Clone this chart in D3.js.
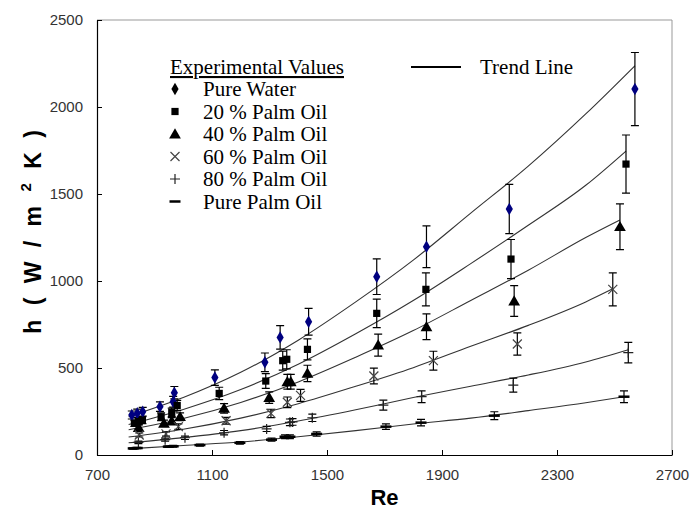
<!DOCTYPE html>
<head>
  <meta charset="utf-8">
  <style>
    body { margin: 0; background: #fff; }
    .tick text { font: 15px Arial, "Liberation Sans", sans-serif; fill: #333; }
    .legend text { font: 21px "Liberation Serif", "Times New Roman", serif; fill: #000; }
    .trend { fill: none; stroke: #333; stroke-width: 1.1; }
    .err { stroke: #000; stroke-width: 1.2; fill: none; }
  </style>
  <script src="https://d3js.org/d3.v7.min.js"></script>
</head>
<body>
  <div id="chart"></div>
  <script>
  // x axis / y axis ticks
  var xTicks = [700, 1100, 1500, 1900, 2300, 2700];
  var yTicks = [0, 500, 1000, 1500, 2000, 2500];

  var seriesNames = ["Pure Water", "20 % Palm Oil", "40 % Palm Oil", "60 % Palm Oil", "80 % Palm Oil", "Pure Palm Oil"];

  // experimental values (Re, h)
  var waterRe = [821, 840, 859, 919, 965, 969, 1110, 1284, 1337, 1436, 1673, 1846, 2134, 2571];
  var waterH  = [230, 240, 249, 278, 306, 358, 445, 533, 676, 766, 1025, 1197, 1414, 2103];
  var po20Re = [830, 845, 858, 923, 960, 979, 1125, 1287, 1346, 1360, 1432, 1673, 1844, 2140, 2540];
  var po20H  = [182, 192, 200, 220, 245, 285, 354, 425, 542, 550, 607, 814, 952, 1126, 1672];
  var po40Re = [845, 933, 960, 989, 1142, 1299, 1362, 1374, 1432, 1678, 1846, 2151, 2519];
  var po40H  = [158, 182, 195, 220, 268, 330, 421, 421, 469, 632, 737, 885, 1312];
  var po60Re = [847, 940, 983, 1149, 1305, 1362, 1408, 1663, 1870, 2162, 2494];
  var po60H  = [115, 121, 163, 197, 239, 303, 343, 454, 542, 638, 952];
  var po80Re = [844, 937, 1006, 1142, 1290, 1371, 1380, 1449, 1696, 1829, 2148, 2548];
  var po80H  = [72, 88, 99, 128, 150, 188, 190, 214, 287, 335, 402, 588];
  var palmRe = [826, 840, 948, 965, 1058, 1197, 1307, 1354, 1371, 1464, 1705, 1827, 2082, 2533];
  var palmH  = [38, 40, 48, 50, 57, 70, 88, 105, 105, 121, 163, 186, 226, 335];

  // trend lines
  var waterTrendRe = [810, 1000, 1200, 1400, 1600, 1800, 2000, 2200, 2400, 2571];
  var waterTrendH  = [220, 330, 475, 660, 880, 1120, 1390, 1660, 1960, 2237];
  var po20TrendRe = [810, 1000, 1200, 1400, 1600, 1800, 2000, 2200, 2400, 2540];
  var po20TrendH  = [175, 262, 376, 522, 697, 888, 1100, 1320, 1550, 1747];
  var po40TrendRe = [810, 1000, 1200, 1400, 1600, 1800, 2000, 2200, 2400, 2519];
  var po40TrendH  = [145, 210, 302, 420, 562, 715, 888, 1062, 1250, 1351];
  var po60TrendRe = [810, 1000, 1200, 1400, 1600, 1800, 2000, 2200, 2400, 2494];
  var po60TrendH  = [103, 148, 212, 295, 395, 502, 625, 745, 880, 955];
  var po80TrendRe = [810, 1000, 1200, 1400, 1600, 1800, 2000, 2200, 2400, 2548];
  var po80TrendH  = [70, 100, 140, 195, 260, 330, 395, 460, 535, 605];
  var palmTrendRe = [810, 1000, 1200, 1400, 1600, 1800, 2000, 2200, 2400, 2533];
  var palmTrendH  = [35, 55, 75, 105, 140, 178, 212, 255, 300, 335];

  // error bars are +/- percent of value (Excel style)
  var errPct = 10;

  var series = [
    {re: waterRe, h: waterH, tre: waterTrendRe, th: waterTrendH, sym: "diamond"},
    {re: po20Re, h: po20H, tre: po20TrendRe, th: po20TrendH, sym: "square"},
    {re: po40Re, h: po40H, tre: po40TrendRe, th: po40TrendH, sym: "triangle"},
    {re: po60Re, h: po60H, tre: po60TrendRe, th: po60TrendH, sym: "x"},
    {re: po80Re, h: po80H, tre: po80TrendRe, th: po80TrendH, sym: "plus"},
    {re: palmRe, h: palmH, tre: palmTrendRe, th: palmTrendH, sym: "dash"}
  ];

  var W = 691, H = 516;
  var margin = {top: 20, right: 19, bottom: 61, left: 97},
      width = W - margin.left - margin.right,
      height = H - margin.top - margin.bottom;

  var x = d3.scaleLinear().domain([700, 2700]).range([0, width]);
  var y = d3.scaleLinear().domain([0, 2500]).range([height, 0]);

  var svg = d3.select("#chart").append("svg")
      .attr("width", W)
      .attr("height", H)
    .append("g")
      .attr("transform", "translate(" + margin.left + "," + margin.top + ")");

  // top and right border (gray)
  svg.append("path")
    .attr("d", "M0,0H" + width + "V" + height)
    .attr("fill", "none")
    .attr("stroke", "#999")
    .attr("stroke-width", 1);

  // axes, ticks pointing inward
  var xAxis = svg.append("g")
    .attr("transform", "translate(0," + height + ")")
    .call(d3.axisBottom(x).tickValues(xTicks).tickFormat(d3.format("d"))
      .tickSizeInner(-5).tickSizeOuter(0).tickPadding(14));
  var yAxis = svg.append("g")
    .call(d3.axisLeft(y).tickValues(yTicks).tickFormat(d3.format("d"))
      .tickSizeInner(-5).tickSizeOuter(0).tickPadding(14));
  [xAxis, yAxis].forEach(function(g) {
    g.select(".domain").attr("stroke", "#000").attr("stroke-width", 1.2);
    g.selectAll(".tick line").attr("stroke", "#000");
  });

  // axis titles
  svg.append("text")
    .attr("x", width / 2)
    .attr("y", height + 50)
    .attr("text-anchor", "middle")
    .style("font", "bold 22px Arial, 'Liberation Sans', sans-serif")
    .text("Re");

  var yl = svg.append("text")
    .attr("transform", "translate(-56," + 212 + ") rotate(-90)")
    .attr("text-anchor", "middle")
    .style("font", "bold 23px Arial, 'Liberation Sans', sans-serif")
    .style("word-spacing", "8px");
  yl.append("tspan").text("h ( W / m ");
  yl.append("tspan").attr("dy", -10).style("font-size", "15px").text("2");
  yl.append("tspan").attr("dy", 10).text(" K )");

  // marker drawing
  function drawMarker(g, sym, fill) {
    if (sym === "diamond") {
      g.append("path").attr("d", d3.symbol().type(d3.symbolDiamond).size(45)).attr("fill", fill);
    } else if (sym === "square") {
      g.append("path").attr("d", d3.symbol().type(d3.symbolSquare).size(52)).attr("fill", "#000");
    } else if (sym === "triangle") {
      g.append("path").attr("d", d3.symbol().type(d3.symbolTriangle).size(60))
        .attr("transform", "translate(0,1)").attr("fill", "#000");
    } else if (sym === "x") {
      g.append("path").attr("d", "M-4.5,-4.5L4.5,4.5M-4.5,4.5L4.5,-4.5").attr("stroke", "#444").attr("stroke-width", 1.2);
    } else if (sym === "plus") {
      g.append("path").attr("d", "M-5,0H5M0,-5V5").attr("stroke", "#222").attr("stroke-width", 1.2);
    } else if (sym === "dash") {
      g.append("path").attr("d", "M-5.5,0H5.5").attr("stroke", "#000").attr("stroke-width", 2.5);
    }
  }

  var line = d3.line().curve(d3.curveMonotoneX)
    .x(function(d) { return x(d[0]); })
    .y(function(d) { return y(d[1]); });

  // trend lines
  series.forEach(function(s) {
    svg.append("path")
      .attr("class", "trend")
      .attr("d", line(d3.zip(s.tre, s.th)));
  });

  // error bars
  series.forEach(function(s) {
    var g = svg.append("g").attr("class", "err");
    d3.zip(s.re, s.h).forEach(function(p) {
      var e = p[1] * errPct / 100;
      var cx = x(p[0]), y0 = y(p[1] - e), y1 = y(p[1] + e);
      g.append("path").attr("d",
        "M" + cx + "," + y0 + "V" + y1 +
        "M" + (cx - 4) + "," + y0 + "H" + (cx + 4) +
        "M" + (cx - 4) + "," + y1 + "H" + (cx + 4));
    });
  });

  // markers
  series.forEach(function(s) {
    d3.zip(s.re, s.h).forEach(function(p) {
      var g = svg.append("g").attr("transform", "translate(" + x(p[0]) + "," + y(p[1]) + ")");
      drawMarker(g, s.sym, "#000080");
    });
  });

  // legend
  var leg = svg.append("g").attr("class", "legend");
  leg.append("text")
    .attr("x", 73).attr("y", 54)
    .attr("text-decoration", "underline")
    .text("Experimental Values");
  seriesNames.forEach(function(name, i) {
    var yy = 69 + i * 22.5;
    var g = leg.append("g").attr("transform", "translate(" + 78 + "," + yy + ")");
    drawMarker(g, series[i].sym, "#000");
    leg.append("text").attr("x", 106).attr("y", yy + 7).text(name);
  });
  leg.append("path")
    .attr("d", "M" + 314 + "," + 47 + "H" + 364)
    .attr("stroke", "#000").attr("stroke-width", 2);
  leg.append("text").attr("x", 383).attr("y", 54).text("Trend Line");
  </script>
</body>
</html>
